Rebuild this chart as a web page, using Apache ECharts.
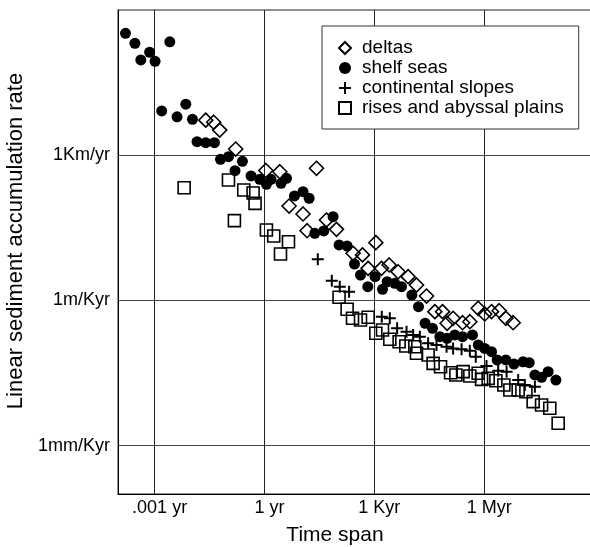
<!DOCTYPE html>
<html>
<head>
<meta charset="UTF-8">
<script src="https://cdn.jsdelivr.net/npm/echarts@6/dist/echarts.min.js"></script>
<style>
    html, body { margin: 0; padding: 0; background: #fff; }
    #chart { width: 590px; height: 547px; }
</style>
</head>
<body>
<div id="chart"></div>
<script>
    // time span in years, rate in m/Kyr
    var xTickValues = [0.001, 1, 1000, 1e6];
    var xTickLabels = ['.001 yr', '1 yr', '1 Kyr', '1 Myr'];
    var yTickValues = [0.001, 1, 1000];
    var yTickLabels = ['1mm/Kyr', '1m/Kyr', '1Km/yr'];

    var seriesNames = ['deltas', 'shelf seas', 'continental slopes', 'rises and abyssal plains'];

    var deltas = [
        [0.0249, 5300], [0.041, 4800], [0.060, 3300], [0.164, 1340], [1.09, 483], [2.62, 456],
        [26.4, 536], [4.7, 89], [11.3, 61], [14.6, 27.5], [49.4, 45.8], [92.7, 29.4],
        [1100, 15.6], [264, 9.4], [476, 8.7], [678, 4.6], [1570, 4.6], [2540, 5.4],
        [4470, 3.9], [8380, 3.09], [14200, 2.08], [26700, 1.23], [45000, 0.585], [73000, 0.585],
        [97500, 0.337], [1.42e5, 0.427], [2.57e5, 0.346], [4.06e5, 0.363], [6.86e5, 0.687],
        [1.04e6, 0.524], [1.59e6, 0.585], [2.57e6, 0.612], [3.92e6, 0.427], [6.2e6, 0.346]
    ];
    var shelfSeas = [
        [1.6e-4, 3.3e5], [2.9e-4, 2.05e5], [4.2e-4, 9.3e4], [7.3e-4, 1.34e5], [1.03e-3, 8.7e4],
        [2.6e-3, 2.2e5], [1.56e-3, 8200], [4.1e-3, 6200], [7.1e-3, 11300], [0.0108, 5500],
        [0.0144, 1900], [0.0249, 1810], [0.043, 1810], [0.063, 822], [0.104, 931], [0.157, 479],
        [0.25, 748], [0.43, 372], [0.74, 318], [1.13, 251], [1.51, 318], [2.84, 262], [4.0, 333],
        [6.6, 144], [11.3, 176], [16.6, 129], [23.7, 24.3], [41.7, 27.2], [74.8, 53.6], [109, 14.0],
        [181, 13.3], [288, 5.65], [420, 3.35], [664, 1.92], [1050, 3.09], [1675, 1.69], [2240, 2.43],
        [3630, 2.25], [5530, 1.92], [10600, 1.29], [16100, 0.74], [24400, 0.337], [38900, 0.265],
        [61700, 0.178], [97500, 0.165], [1.58e5, 0.193], [2.57e5, 0.178], [4.8e5, 0.193],
        [6.9e5, 0.12], [1.04e6, 0.102], [1.59e6, 0.087], [2.26e6, 0.0588], [3.92e6, 0.0588],
        [6.5e6, 0.0485], [1.16e7, 0.054], [1.7e7, 0.0516], [2.43e7, 0.0288], [3.7e7, 0.0258],
        [5.6e7, 0.0337], [9.1e7, 0.0226]
    ];
    var continentalSlopes = [
        [28.6, 7.06], [69, 2.55], [114, 1.92], [205, 1.51], [1600, 0.46], [2650, 0.427],
        [4200, 0.265], [7590, 0.225], [11500, 0.193], [17500, 0.178], [29500, 0.13], [50000, 0.12],
        [94000, 0.11], [1.42e5, 0.102], [2.42e5, 0.098], [4.06e5, 0.0915], [5.9e5, 0.0687],
        [1.16e6, 0.0442], [2.42e6, 0.0353], [4.1e6, 0.0337], [8.5e6, 0.0226], [1.29e7, 0.0179],
        [2.43e7, 0.0165]
    ];
    var risesPlains = [
        [6.4e-3, 213], [0.151, 44.4], [0.104, 308], [0.272, 191], [0.489, 166], [0.553, 101],
        [1.13, 28.5], [1.79, 21.4], [4.53, 16.3], [2.74, 9.1], [109, 1.16], [181, 0.655],
        [254, 0.427], [420, 0.394], [678, 0.448], [1100, 0.209], [1675, 0.244], [2650, 0.157],
        [4760, 0.14], [7260, 0.114], [12800, 0.11], [14200, 0.0807], [29500, 0.0745], [40400, 0.05],
        [64400, 0.0427], [1.21e5, 0.032], [1.69e5, 0.0288], [2.67e5, 0.0337], [4.06e5, 0.0274],
        [6.86e5, 0.0312], [8.5e5, 0.0234], [1.29e6, 0.0245], [2.09e6, 0.0219], [3.45e6, 0.0179],
        [5.04e6, 0.0141], [8.5e6, 0.0141], [1.38e7, 0.013], [2.18e7, 8.1e-3], [3.7e7, 6.9e-3],
        [6.2e7, 5.9e-3], [1.05e8, 2.9e-3]
    ];

    // label for the closest custom tick (log values come back slightly off)
    function tickLabel(values, labels) {
        return function (v) {
            var best = 0;
            var lv = Math.log10(v);
            for (var i = 1; i < values.length; i++) {
                if (Math.abs(Math.log10(values[i]) - lv) < Math.abs(Math.log10(values[best]) - lv)) best = i;
            }
            return labels[best];
        };
    }

    var hollow = { color: 'rgba(0,0,0,0)', borderColor: '#000', borderWidth: 1.6, opacity: 1 };
    var solid = { color: '#000', opacity: 1 };

    var myChart = echarts.init(document.getElementById('chart'));
    var option = {
        animation: false,
        textStyle: { fontFamily: 'Liberation Sans' },
        grid: {
            left: 118, top: 10, width: 476, height: 484,
            show: true, borderColor: '#222', borderWidth: 1,
            containLabel: false, outerBoundsMode: 'none'
        },
        legend: {
            data: seriesNames,
            orient: 'vertical',
            left: 322, top: 26,
            itemWidth: 12, itemHeight: 12, itemGap: 0,
            symbolKeepAspect: true,
            padding: [12, 15, 11, 16],
            backgroundColor: '#fff', borderColor: '#333', borderWidth: 1,
            selectedMode: false,
            textStyle: { fontSize: 19, lineHeight: 20, color: '#000', fontFamily: 'Liberation Sans', padding: [0, 0, 0, 6] }
        },
        xAxis: {
            type: 'log', logBase: 10, min: 1e-4, max: 1e9,
            name: 'Time span', nameLocation: 'middle', nameGap: 31, nameMoveOverlap: false,
            nameTextStyle: { fontSize: 21, color: '#000', padding: [0, 42, 0, 0] },
            axisLine: { show: true, lineStyle: { color: '#000' } },
            axisTick: { show: false, customValues: xTickValues },
            axisLabel: {
                customValues: xTickValues, formatter: tickLabel(xTickValues, xTickLabels),
                fontSize: 18, color: '#000', margin: 5, padding: [0, 0, 0, 10]
            },
            splitLine: { show: true, lineStyle: { color: '#222', width: 1 } },
            minorSplitLine: { show: false }
        },
        yAxis: {
            type: 'log', logBase: 10, min: 1e-4, max: 1e6,
            name: 'Linear sediment accumulation rate', nameLocation: 'middle', nameGap: 91, nameMoveOverlap: false,
            nameTextStyle: { fontSize: 22, color: '#000', padding: [0, 0, 0, 22] },
            axisLine: { show: true, lineStyle: { color: '#000' } },
            axisTick: { show: false, customValues: yTickValues },
            axisLabel: {
                customValues: yTickValues, formatter: tickLabel(yTickValues, yTickLabels),
                fontSize: 18, color: '#000', margin: 8
            },
            splitLine: { show: true, lineStyle: { color: '#444', width: 1 } },
            minorSplitLine: { show: false }
        },
        series: [
            { name: seriesNames[0], type: 'scatter', data: deltas, symbol: 'diamond', symbolSize: 14, itemStyle: hollow },
            { name: seriesNames[1], type: 'scatter', data: shelfSeas, symbol: 'circle', symbolSize: 11, itemStyle: solid },
            { name: seriesNames[2], type: 'scatter', data: continentalSlopes, symbol: 'path://M5,0H7V5H12V7H7V12H5V7H0V5H5Z', symbolSize: 12, itemStyle: solid },
            { name: seriesNames[3], type: 'scatter', data: risesPlains, symbol: 'rect', symbolSize: 12, itemStyle: hollow }
        ]
    };
    myChart.setOption(option);
</script>
</body>
</html>
